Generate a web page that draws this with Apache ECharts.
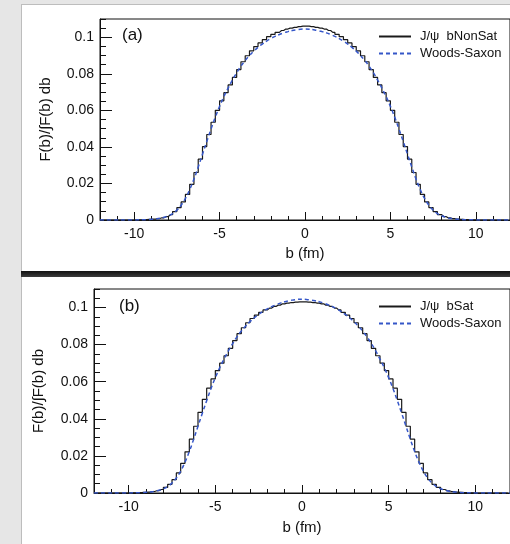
<!DOCTYPE html>
<html>
<head>
<meta charset="utf-8">
<script src="https://cdn.jsdelivr.net/npm/echarts@6/dist/echarts.min.js"></script>
<style>
  html, body { margin: 0; padding: 0; background: #e6e6e6; }
  #chart { width: 510px; height: 544px; }
</style>
</head>
<body>
<div id="chart"></div>
<script>
// histogram binning (fm)
var binLow = -12;
var binWidth = 0.25;

// panel (a): J/psi bNonSat, one value per bin from -12 to 12
var histNonSat = [
  0, 0, 0, 0, 0, 0, 0, 0,
  0.0001, 0.0001, 0.0002, 0.0003, 0.0005, 0.0008, 0.0012, 0.0019,
  0.0029, 0.0046, 0.0068, 0.0099, 0.0140, 0.0195, 0.0260, 0.0333,
  0.0402, 0.0468, 0.0535, 0.0600, 0.0652, 0.0697, 0.0739, 0.0780,
  0.0823, 0.0866, 0.0899, 0.0926, 0.0949, 0.0969, 0.0987, 0.1003,
  0.1016, 0.1027, 0.1037, 0.1045, 0.1050, 0.1054, 0.1058, 0.1061,
  0.1061, 0.1058, 0.1054, 0.1050, 0.1045, 0.1037, 0.1027, 0.1016,
  0.1003, 0.0987, 0.0969, 0.0949, 0.0926, 0.0899, 0.0866, 0.0823,
  0.0780, 0.0739, 0.0697, 0.0652, 0.0600, 0.0535, 0.0468, 0.0402,
  0.0333, 0.0260, 0.0195, 0.0140, 0.0099, 0.0068, 0.0046, 0.0029,
  0.0019, 0.0012, 0.0008, 0.0005, 0.0003, 0.0002, 0.0001, 0.0001,
  0, 0, 0, 0, 0, 0, 0, 0
];

// panel (b): J/psi bSat
var histSat = [
  0, 0, 0, 0, 0, 0, 0, 0,
  0.0001, 0.0001, 0.0002, 0.0003, 0.0005, 0.0008, 0.0012, 0.0019,
  0.0030, 0.0047, 0.0072, 0.0108, 0.0160, 0.0222, 0.0290, 0.0360,
  0.0435, 0.0505, 0.0565, 0.0615, 0.0660, 0.0700, 0.0740, 0.0780,
  0.0822, 0.0859, 0.0891, 0.0918, 0.0941, 0.0959, 0.0974, 0.0987,
  0.0997, 0.1006, 0.1013, 0.1020, 0.1024, 0.1027, 0.1029, 0.1031,
  0.1031, 0.1029, 0.1027, 0.1024, 0.1020, 0.1013, 0.1006, 0.0997,
  0.0987, 0.0974, 0.0959, 0.0941, 0.0918, 0.0891, 0.0859, 0.0822,
  0.0780, 0.0740, 0.0700, 0.0660, 0.0615, 0.0565, 0.0505, 0.0435,
  0.0360, 0.0290, 0.0222, 0.0160, 0.0108, 0.0072, 0.0047, 0.0030,
  0.0019, 0.0012, 0.0008, 0.0005, 0.0003, 0.0002, 0.0001, 0.0001,
  0, 0, 0, 0, 0, 0, 0, 0
];

// Woods-Saxon curve, sampled every 0.25 fm from -12 to 12
var wsStart = -12;
var wsStep = 0.25;
var woodsSaxon = [
  0, 0, 0, 0, 0, 0, 0, 0, 0,
  0.0001, 0.0001, 0.0002, 0.0004, 0.0006, 0.0009, 0.0015, 0.0023,
  0.0035, 0.0054, 0.0081, 0.0118, 0.0166, 0.0224, 0.0290, 0.0360,
  0.0430, 0.0498, 0.0563, 0.0622, 0.0675, 0.0722, 0.0766, 0.0806,
  0.0842, 0.0873, 0.0900, 0.0924, 0.0945, 0.0963, 0.0979, 0.0993,
  0.1005, 0.1015, 0.1024, 0.1031, 0.1037, 0.1041, 0.1044,
  0.1045,
  0.1044, 0.1041, 0.1037, 0.1031, 0.1024, 0.1015, 0.1005,
  0.0993, 0.0979, 0.0963, 0.0945, 0.0924, 0.0900, 0.0873, 0.0842,
  0.0806, 0.0766, 0.0722, 0.0675, 0.0622, 0.0563, 0.0498, 0.0430,
  0.0360, 0.0290, 0.0224, 0.0166, 0.0118, 0.0081, 0.0054, 0.0035,
  0.0023, 0.0015, 0.0009, 0.0006, 0.0004, 0.0002, 0.0001, 0.0001,
  0, 0, 0, 0, 0, 0, 0, 0, 0
];

var xTicks = [-10, -5, 0, 5, 10];
var yTicks = [0, 0.02, 0.04, 0.06, 0.08, 0.1];
var panelLabels = ["(a)", "(b)"];
var histNames = ["J/\u03c8  bNonSat", "J/\u03c8  bSat"];
var wsName = "Woods-Saxon";

var FONT = "'Liberation Sans', Arial, Helvetica, sans-serif";

var histPairs = function (vals) {
  return vals.map(function (v, i) {
    return [binLow + binWidth * (i + 0.5), v];
  });
};
var wsPairs = woodsSaxon.map(function (v, i) {
  return [wsStart + wsStep * i, v];
});

var grids = [
  { left: 100, top: 19, width: 412, height: 201 },
  { left: 94, top: 289, width: 418, height: 204 }
];

var xAxes = [];
var yAxes = [];
var series = [];
var legends = [];
var titles = [];

grids.forEach(function (g, p) {
  g.show = true;
  g.borderColor = "#111";
  g.borderWidth = 1;
  g.backgroundColor = "transparent";

  // major x axis with labels
  xAxes.push({
    type: "value", gridIndex: p, min: -12, max: 12, position: "bottom",
    name: "b (fm)", nameLocation: "middle", nameGap: p === 0 ? 26 : 27,
    nameTextStyle: { fontFamily: FONT, fontSize: 15, color: "#111" },
    axisLine: { show: true, onZero: false, lineStyle: { color: "#111", width: 1 } },
    axisTick: { show: true, inside: true, length: 8, customValues: xTicks,
      lineStyle: { color: "#111", width: 1 } },
    axisLabel: { show: true, customValues: xTicks, margin: 7,
      fontFamily: FONT, fontSize: 14, color: "#111" },
    splitLine: { show: false }
  });
  // minor x ticks
  xAxes.push({
    type: "value", gridIndex: p, min: -12, max: 12, interval: 1, position: "bottom",
    axisLine: { show: false, onZero: false },
    axisTick: { show: true, inside: true, length: 4, lineStyle: { color: "#111", width: 1 } },
    axisLabel: { show: false },
    splitLine: { show: false }
  });

  // major y axis with labels
  yAxes.push({
    type: "value", gridIndex: p, min: 0, max: 0.11, position: "left",
    name: "F(b)/\u222bF(b) db", nameLocation: "middle", nameGap: p === 0 ? 47 : 48,
    nameRotate: 90,
    nameTextStyle: { fontFamily: FONT, fontSize: 15, color: "#111" },
    axisLine: { show: true, onZero: false, lineStyle: { color: "#111", width: 1 } },
    axisTick: { show: true, inside: true, length: 12, customValues: yTicks,
      lineStyle: { color: "#111", width: 1 } },
    axisLabel: { show: true, customValues: yTicks, margin: 6,
      fontFamily: FONT, fontSize: 14, color: "#111",
      formatter: function (v) { return String(v); } },
    splitLine: { show: false }
  });
  // minor y ticks
  yAxes.push({
    type: "value", gridIndex: p, min: 0, max: 0.11, interval: 0.005, position: "left",
    axisLine: { show: false, onZero: false },
    axisTick: { show: true, inside: true, length: 6, lineStyle: { color: "#111", width: 1 } },
    axisLabel: { show: false },
    splitLine: { show: false }
  });

  series.push({
    type: "line", name: histNames[p],
    xAxisIndex: p * 2, yAxisIndex: p * 2,
    data: histPairs(p === 0 ? histNonSat : histSat),
    step: "middle", symbol: "none", showSymbol: false,
    lineStyle: { color: "#1a1a1a", width: 1.2 },
    itemStyle: { color: "#1a1a1a" },
    z: 3
  });
  series.push({
    type: "line", name: wsName,
    xAxisIndex: p * 2, yAxisIndex: p * 2,
    data: wsPairs, smooth: true,
    symbol: "none", showSymbol: false,
    lineStyle: { color: "#3556c8", width: 1.5, type: [4, 3] },
    itemStyle: { color: "#3556c8" },
    z: 4
  });

  legends.push({
    data: [histNames[p], wsName],
    orient: "vertical", left: 378, top: p === 0 ? 30 : 300,
    itemWidth: 32, itemHeight: 12, itemGap: 4, padding: 0,
    selectedMode: false,
    itemStyle: { opacity: 0 },
    textStyle: { fontFamily: FONT, fontSize: 13, color: "#111", padding: [0, 0, 0, 4] }
  });

  titles.push({
    text: panelLabels[p], left: p === 0 ? 122 : 119, top: p === 0 ? 27 : 298, padding: 0,
    textStyle: { fontFamily: FONT, fontSize: 17, fontWeight: "normal", color: "#111" }
  });
});

var chart = echarts.init(document.getElementById("chart"), null, { renderer: "canvas" });
chart.setOption({
  animation: false,
  backgroundColor: "#e6e6e6",
  graphic: [
    { type: "rect", z: -10, shape: { x: 21, y: 4, width: 489, height: 268 },
      style: { fill: "#bdbdbd" }, silent: true },
    { type: "rect", z: -9, shape: { x: 22, y: 5, width: 488, height: 266 },
      style: { fill: "#ffffff" }, silent: true },
    { type: "rect", z: -9, shape: { x: 21, y: 271, width: 489, height: 6 },
      style: { fill: new echarts.graphic.LinearGradient(0, 0, 0, 1, [
        { offset: 0, color: "#111111" }, { offset: 1, color: "#3c3c3c" }]) }, silent: true },
    { type: "rect", z: -10, shape: { x: 21, y: 277, width: 489, height: 267 },
      style: { fill: "#bdbdbd" }, silent: true },
    { type: "rect", z: -9, shape: { x: 22, y: 277, width: 488, height: 267 },
      style: { fill: "#ffffff" }, silent: true }
  ],
  title: titles,
  legend: legends,
  grid: grids,
  xAxis: xAxes,
  yAxis: yAxes,
  series: series
});
</script>
</body>
</html>
